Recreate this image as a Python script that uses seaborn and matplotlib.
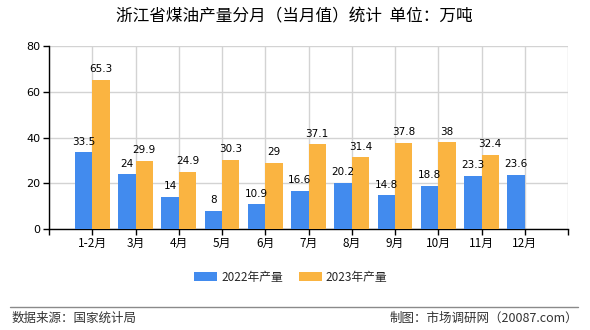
import matplotlib
matplotlib.use("Agg")
import matplotlib.pyplot as plt
from matplotlib.lines import Line2D
from matplotlib.patches import Patch
import numpy as np
import pandas as pd
import seaborn as sns

months = ["1-2月", "3月", "4月", "5月", "6月", "7月", "8月", "9月", "10月", "11月", "12月"]
output_2022 = [33.5, 24, 14, 8, 10.9, 16.6, 20.2, 14.8, 18.8, 23.3, 23.6]
output_2023 = [65.3, 29.9, 24.9, 30.3, 29, 37.1, 31.4, 37.8, 38, 32.4, np.nan]
series_names = ["2022年产量", "2023年产量"]
colors = ["#428BEE", "#FAB441"]
y_ticks = [0, 20, 40, 60, 80]

title = "浙江省煤油产量分月（当月值）统计  单位：万吨"
source_text = "数据来源：国家统计局"
credit_text = "制图：市场调研网（20087.com）"

df = pd.DataFrame({
    "month": months * 2,
    "value": output_2022 + output_2023,
    "series": [series_names[0]] * len(months) + [series_names[1]] * len(months),
})

sns.set_theme(style="white")
cjk = ["Noto Sans CJK SC", "DejaVu Sans"]
plt.rcParams["font.family"] = cjk

W, H = 590, 330
fig = plt.figure(figsize=(W / 100, H / 100), dpi=100)
ax = fig.add_axes([49 / W, 1 - 229 / H, (568 - 49) / W, (229 - 46) / H])

sns.barplot(data=df, x="month", y="value", hue="series", order=months,
            hue_order=series_names, palette=colors, width=0.8,
            saturation=1, ax=ax, legend=False, linewidth=0, zorder=3)

ax.set_xlim(-1, len(months))
ax.set_ylim(0, 80)
ax.set_yticks(y_ticks)
ax.set_yticklabels([str(t) for t in y_ticks], fontsize=8, family="DejaVu Sans")
ax.set_xticks(range(-1, len(months) + 1))
ax.set_xticklabels([""] + months + [""], fontsize=8.5)
ax.set_xlabel("")
ax.set_ylabel("")

ax.grid(True, axis="both", color="#d3d3d3", linewidth=1, zorder=0)
ax.set_axisbelow(True)
for side in ["top", "right"]:
    ax.spines[side].set_visible(False)
ax.spines["left"].set_color("black")
ax.spines["bottom"].set_color("black")
ax.spines["left"].set_linewidth(1)
ax.spines["bottom"].set_linewidth(1)
ax.tick_params(axis="both", which="both", direction="out", length=4,
               width=1, color="black", labelcolor="black", pad=2,
               bottom=True, left=True)

# value labels above each bar
for container, values in zip(ax.containers, [output_2022, output_2023]):
    for bar, v in zip(container, values):
        if v is None or np.isnan(v):
            continue
        label = f"{v:g}"
        ax.annotate(label, (bar.get_x() + bar.get_width() / 2, bar.get_height()),
                    xytext=(0, 4), textcoords="offset points",
                    ha="center", va="bottom", fontsize=7.5,
                    family="DejaVu Sans", color="black")

fig.text(294 / W, 1 - 17 / H, title, ha="center", va="center", fontsize=12,
         color="black", weight="medium")

handles = [Patch(facecolor=c, edgecolor="none") for c in colors]
fig.legend(handles, series_names, loc="center", ncol=2,
           bbox_to_anchor=(291 / W, 1 - 277 / H), frameon=False, fontsize=8.5,
           handlelength=1.9, handleheight=0.8, columnspacing=1.4,
           handletextpad=0.35)

fig.add_artist(Line2D([10 / W, 578 / W], [1 - 307 / H] * 2, color="#8a8a8a",
                      linewidth=1))
fig.text(12 / W, 1 - 318 / H, source_text, ha="left", va="center",
         fontsize=9, color="#333333")
fig.text(578 / W, 1 - 318 / H, credit_text, ha="right", va="center",
         fontsize=9, color="#333333")

fig.savefig("out.png", dpi=100, facecolor="white")
